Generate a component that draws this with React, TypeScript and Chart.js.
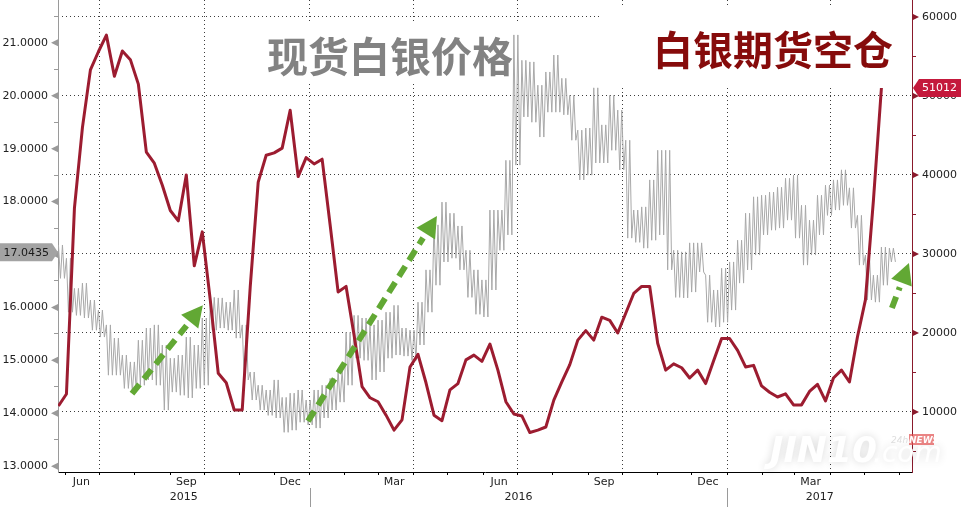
import { useEffect, useRef } from 'react';
import { Chart, registerables } from 'chart.js';

Chart.register(...registerables);

// ---- time axis (days since 2015-01-01) ----
const X_MIN = 144.6;
const X_MAX = 892.8;
const FIRST_WEEK_DAY = 145; // 2015-05-26

const monthStarts = [151, 181, 212, 243, 273, 304, 334, 365, 396, 425, 456, 486, 517, 547, 578, 609, 639, 670, 700, 731, 762, 790, 821, 851, 882];
const quarterStarts = [181, 273, 365, 456, 547, 639, 731, 821];
const monthLabelDays = [165, 257, 348, 439, 531, 623, 714, 804];
const monthLabelTexts = ['Jun', 'Sep', 'Dec', 'Mar', 'Jun', 'Sep', 'Dec', 'Mar'];
const yearLabelDays = [254.8, 548, 811.9];
const yearLabelTexts = ['2015', '2016', '2017'];
const yearBreakDays = [365, 731];

// ---- left axis: spot silver ----
const priceTicks = [13, 14, 15, 16, 17, 18, 19, 20, 21];
const priceMinorTicks = [13.5, 14.5, 15.5, 16.5, 17.5, 18.5, 19.5, 20.5, 21.5];
const lastPrice = 17.0435;

// weekly high / low of spot silver
const silverHigh = [
  17.18, 16.93, 16.36, 16.46, 16.14, 15.95, 15.67, 15.42, 15.10, 14.97,
  15.38, 15.61, 15.67, 15.29, 15.04, 15.10, 15.44, 15.29, 15.80, 16.19,
  16.18, 16.10, 16.33, 15.67, 14.78, 14.53, 14.44, 14.63, 14.30, 14.38,
  14.44, 14.25, 14.44, 14.53, 14.66, 14.81, 15.53, 15.85, 15.80, 15.67,
  15.76, 15.91, 16.04, 15.61, 15.57, 16.10, 16.71, 17.56, 17.99, 17.78,
  17.54, 17.08, 16.71, 16.52, 17.84, 17.84, 18.78, 21.15, 20.67, 20.64,
  20.20, 20.45, 20.77, 20.33, 20.01, 19.35, 19.39, 20.15, 19.45, 20.01,
  19.73, 19.16, 17.84, 17.90, 18.41, 18.97, 18.97, 17.08, 17.05, 17.22,
  17.22, 16.61, 16.33, 16.74, 16.86, 17.27, 17.78, 18.09, 18.12, 18.18,
  18.27, 18.44, 18.50, 17.93, 17.65, 18.12, 18.31, 18.41, 18.60, 18.26,
  17.74, 16.99, 16.61, 17.14, 17.12,
];
const silverLow = [
  16.55, 15.91, 15.85, 15.80, 15.57, 15.44, 14.72, 14.72, 14.47, 14.40,
  14.53, 14.63, 14.53, 14.06, 14.40, 14.34, 14.29, 14.47, 14.53, 15.57,
  15.61, 15.57, 15.42, 14.63, 14.25, 14.06, 13.96, 13.91, 13.64, 13.68,
  13.83, 13.78, 13.72, 13.91, 14.06, 14.21, 14.53, 15.04, 15.00, 14.63,
  14.78, 15.04, 15.10, 15.08, 15.00, 15.29, 15.91, 16.42, 16.86, 16.93,
  16.71, 16.19, 15.87, 15.82, 16.33, 17.08, 17.37, 18.69, 19.60, 19.50,
  19.22, 19.69, 19.69, 19.64, 19.16, 18.41, 18.50, 18.73, 18.73, 18.97,
  18.60, 17.31, 17.23, 17.12, 17.27, 17.37, 16.71, 16.19, 16.18, 16.29,
  16.67, 15.72, 15.63, 15.72, 15.95, 16.46, 16.71, 16.99, 17.37, 17.46,
  17.50, 17.65, 17.31, 16.80, 16.99, 17.37, 17.74, 17.84, 17.93, 17.50,
  16.80, 16.14, 16.10, 16.42, 16.86,
];

// ---- right axis: silver futures short positions (weekly) ----
const shortTicks = [10000, 20000, 30000, 40000, 50000, 60000];
const shortMinorTicks = [5000, 15000, 25000, 35000, 45000, 55000];
const silverShorts = [
  10760, 12280, 35800, 46000, 53300, 55600, 57700, 52500, 55700, 54600,
  51500, 42900, 41500, 38700, 35500, 34200, 40000, 28500, 32800, 24200,
  14900, 13700, 10250, 10250, 25800, 39100, 42500, 42800, 43400, 48200,
  39800, 42200, 41400, 42000, 33700, 25200, 25900, 19700, 13200, 11800,
  11300, 9600, 7700, 9000, 15700, 17300, 13700, 9600, 8900, 12800,
  13600, 16600, 17200, 16400, 18600, 15300, 11300, 9750, 9500, 7400,
  7700, 8100, 11500, 13800, 16000, 19100, 20300, 19100, 22000, 21600,
  20000, 22500, 25000, 25900, 25900, 18700, 15300, 16100, 15600, 14300,
  15300, 13600, 16500, 19300, 19300, 17800, 15700, 15900, 13300, 12500,
  11900, 12300, 10900, 10900, 12600, 13500, 11400, 14300, 15300, 13800,
  19500, 24200, 36800, 51012,
];
const lastShorts = 51012;

// annotation arrows, in data units [day, price]
const arrowTails = [[209.4, 14.37], [363.6, 13.85], [875.2, 15.99]];
const arrowTips = [[271.5, 16.04], [476.6, 17.73], [890.1, 16.84]];

const titleSpot = '现货白银价格';
const titleShorts = '白银期货空仓';

const FONT = '"DejaVu Sans", Verdana, sans-serif';
const RED_LINE = '#9c1c30';
const RED_AXIS = '#8a1a2c';
const GREEN = '#62a834';
const GRID = '#3c3c3c';

const xTickValues = [...monthStarts, ...monthLabelDays, ...yearLabelDays].sort((a, b) => a - b);

function xLabel(v: number): string | string[] {
  const m = monthLabelDays.indexOf(v);
  if (m >= 0) return monthLabelTexts[m];
  const y = yearLabelDays.indexOf(v);
  if (y >= 0) return ['', yearLabelTexts[y]];
  return '';
}

function drawArrow(ctx: CanvasRenderingContext2D, x1: number, y1: number, x2: number, y2: number) {
  const dx = x2 - x1, dy = y2 - y1;
  const len = Math.hypot(dx, dy);
  const ux = dx / len, uy = dy / len;
  const headLen = 21, headHalf = 11;
  const bx = x2 - ux * headLen, by = y2 - uy * headLen;
  ctx.save();
  ctx.strokeStyle = GREEN;
  ctx.lineWidth = 6;
  ctx.setLineDash([12, 7]);
  ctx.beginPath();
  ctx.moveTo(x1, y1);
  ctx.lineTo(bx - ux * 5, by - uy * 5);
  ctx.stroke();
  ctx.setLineDash([]);
  ctx.fillStyle = GREEN;
  ctx.beginPath();
  ctx.moveTo(x2, y2);
  ctx.lineTo(bx - uy * headHalf, by + ux * headHalf);
  ctx.lineTo(bx + uy * headHalf, by - ux * headHalf);
  ctx.closePath();
  ctx.fill();
  ctx.restore();
}

const decorPlugin = {
  id: 'decor',
  beforeDatasetsDraw(chart: any) {
    const { ctx } = chart;
    ctx.save();
    ctx.fillStyle = '#ffffff';
    ctx.fillRect(262, 24, 256, 60);
    ctx.fillRect(600, 6, 311, 79);
    ctx.textAlign = 'center';
    ctx.textBaseline = 'middle';
    ctx.font = 'bold 41px "Noto Sans CJK SC"';
    ctx.fillStyle = '#828282';
    ctx.fillText(titleSpot, 390, 56);
    ctx.font = 'bold 40px "Noto Sans CJK SC"';
    ctx.fillStyle = '#860b0b';
    ctx.fillText(titleShorts, 773, 50);
    ctx.restore();
  },
  afterDatasetsDraw(chart: any) {
    const { ctx } = chart;
    const xs = chart.scales.x, yl = chart.scales.yL;
    for (let i = 0; i < arrowTails.length; i++) {
      drawArrow(
        ctx,
        xs.getPixelForValue(arrowTails[i][0]), yl.getPixelForValue(arrowTails[i][1]),
        xs.getPixelForValue(arrowTips[i][0]), yl.getPixelForValue(arrowTips[i][1]),
      );
    }
  },
  afterDraw(chart: any) {
    const { ctx, chartArea } = chart;
    const xs = chart.scales.x, yl = chart.scales.yL, yr = chart.scales.yR;
    ctx.save();
    // axis tick triangles
    ctx.fillStyle = '#9a9a9a';
    for (const v of priceTicks) {
      const y = yl.getPixelForValue(v);
      ctx.beginPath();
      ctx.moveTo(chartArea.left, y - 3.5);
      ctx.lineTo(chartArea.left, y + 3.5);
      ctx.lineTo(chartArea.left - 7, y);
      ctx.closePath();
      ctx.fill();
    }
    ctx.fillStyle = RED_AXIS;
    for (const v of shortTicks) {
      const y = yr.getPixelForValue(v);
      ctx.beginPath();
      ctx.moveTo(chartArea.right, y - 3.5);
      ctx.lineTo(chartArea.right, y + 3.5);
      ctx.lineTo(chartArea.right + 7, y);
      ctx.closePath();
      ctx.fill();
    }
    // year separators
    ctx.strokeStyle = '#9a9a9a';
    ctx.lineWidth = 1;
    for (const d of yearBreakDays) {
      const x = Math.round(xs.getPixelForValue(d)) + 0.5;
      ctx.beginPath();
      ctx.moveTo(x, chartArea.bottom + 16);
      ctx.lineTo(x, chartArea.bottom + 35);
      ctx.stroke();
    }
    // last value tags
    ctx.font = '11px ' + FONT;
    ctx.textBaseline = 'middle';
    const py = yl.getPixelForValue(lastPrice);
    ctx.fillStyle = '#a3a3a3';
    ctx.beginPath();
    ctx.moveTo(0, py - 9);
    ctx.lineTo(chartArea.left - 6, py - 9);
    ctx.lineTo(chartArea.left, py);
    ctx.lineTo(chartArea.left - 6, py + 9);
    ctx.lineTo(0, py + 9);
    ctx.closePath();
    ctx.fill();
    ctx.fillStyle = '#1a1a1a';
    ctx.textAlign = 'right';
    ctx.fillText(lastPrice.toFixed(4), chartArea.left - 9, py + 0.5);

    const sy = yr.getPixelForValue(lastShorts);
    ctx.fillStyle = '#c4193c';
    ctx.beginPath();
    ctx.moveTo(chartArea.right + 1, sy);
    ctx.lineTo(chartArea.right + 7, sy - 9);
    ctx.lineTo(961, sy - 9);
    ctx.lineTo(961, sy + 9);
    ctx.lineTo(chartArea.right + 7, sy + 9);
    ctx.closePath();
    ctx.fill();
    ctx.fillStyle = '#ffffff';
    ctx.textAlign = 'left';
    ctx.fillText(String(lastShorts), chartArea.right + 10, sy + 0.5);

    // watermark
    ctx.shadowColor = 'rgba(0,0,0,0.16)';
    ctx.shadowBlur = 8;
    ctx.fillStyle = 'rgba(255,255,255,0.97)';
    ctx.textAlign = 'left';
    ctx.textBaseline = 'alphabetic';
    ctx.font = 'italic bold 36px ' + FONT;
    ctx.fillText('JIN10', 770, 462);
    ctx.font = 'italic 28px ' + FONT;
    ctx.fillText('.com', 873, 462);
    ctx.shadowBlur = 0;
    ctx.shadowColor = 'transparent';
    ctx.fillStyle = 'rgba(225,80,80,0.7)';
    ctx.fillRect(909, 434, 25, 11);
    ctx.fillStyle = '#ffffff';
    ctx.font = 'italic bold 9px ' + FONT;
    ctx.fillText('NEWS', 909, 443);
    ctx.fillStyle = 'rgba(200,200,200,0.6)';
    ctx.font = 'italic 9px ' + FONT;
    ctx.fillText('24h', 891, 443);
    ctx.restore();
  },
};

export default function App() {
  const ref = useRef<HTMLCanvasElement>(null);

  useEffect(() => {
    // each weekly high-low range is drawn as a hatch of thin vertical strokes
    const spotPoints: { x: number; y: number }[] = [];
    for (let k = 0; k < silverHigh.length; k++) {
      const d = FIRST_WEEK_DAY + 7 * k;
      spotPoints.push({ x: d, y: silverHigh[k] });
      spotPoints.push({ x: d + 1.75, y: silverLow[k] });
      spotPoints.push({ x: d + 3.5, y: silverHigh[k] });
      spotPoints.push({ x: d + 5.25, y: silverLow[k] });
    }
    const shortPoints = silverShorts.map((v, i) => ({ x: FIRST_WEEK_DAY + 7 * i, y: v }));

    const chart = new Chart(ref.current as HTMLCanvasElement, {
      type: 'line',
      data: {
        datasets: [
          {
            label: titleShorts,
            data: shortPoints,
            yAxisID: 'yR',
            xAxisID: 'x',
            borderColor: RED_LINE,
            borderWidth: 3,
            pointRadius: 0,
            tension: 0,
            borderJoinStyle: 'round',
          },
          {
            label: titleSpot,
            data: spotPoints,
            yAxisID: 'yL',
            xAxisID: 'x',
            borderColor: '#a8a8a8',
            borderWidth: 1,
            pointRadius: 0,
            tension: 0,
          },
        ],
      },
      options: {
        responsive: false,
        devicePixelRatio: 1,
        animation: false,
        events: [],
        layout: { padding: 0 },
        plugins: { legend: { display: false }, tooltip: { enabled: false }, title: { display: false } },
        scales: {
          x: {
            type: 'linear',
            position: 'bottom',
            min: X_MIN,
            max: X_MAX,
            afterBuildTicks: (s: any) => { s.ticks = xTickValues.map((v) => ({ value: v })); },
            afterFit: (s: any) => { s.height = 35; s.paddingLeft = 0; s.paddingRight = 0; },
            grid: {
              color: (c: any) => (c.tick && quarterStarts.includes(c.tick.value) ? GRID : 'rgba(0,0,0,0)'),
              tickColor: (c: any) => (c.tick && monthStarts.includes(c.tick.value) ? '#000' : 'rgba(0,0,0,0)'),
              tickLength: 3,
              lineWidth: 1,
            },
            border: { color: '#000', width: 1, dash: [1, 3] },
            ticks: {
              autoSkip: false,
              maxRotation: 0,
              minRotation: 0,
              padding: 0,
              color: '#222',
              font: { family: FONT, size: 11, lineHeight: 1.35 },
              callback: (v: any) => xLabel(v),
            },
          },
          yL: {
            type: 'linear',
            position: 'left',
            min: 12.89,
            max: 21.81,
            afterBuildTicks: (s: any) => {
              s.ticks = [...priceTicks, ...priceMinorTicks].sort((a, b) => a - b).map((v) => ({ value: v }));
            },
            afterFit: (s: any) => { s.width = 58; s.paddingTop = 0; s.paddingBottom = 0; },
            grid: { drawOnChartArea: false, tickLength: 4, color: '#9a9a9a' },
            border: { color: '#9a9a9a', width: 1 },
            ticks: {
              padding: 6,
              color: '#222',
              font: { family: FONT, size: 11 },
              callback: (v: any) => (priceTicks.includes(v) ? Number(v).toFixed(4) : ''),
            },
          },
          yR: {
            type: 'linear',
            position: 'right',
            min: 2405,
            max: 62150,
            afterBuildTicks: (s: any) => {
              s.ticks = [...shortTicks, ...shortMinorTicks].sort((a, b) => a - b).map((v) => ({ value: v }));
            },
            afterFit: (s: any) => { s.width = 49; s.paddingTop = 0; s.paddingBottom = 0; },
            grid: {
              color: (c: any) => (c.tick && shortTicks.includes(c.tick.value) ? GRID : 'rgba(0,0,0,0)'),
              tickColor: RED_AXIS,
              tickLength: 4,
              lineWidth: 1,
            },
            border: { color: RED_AXIS, width: 1, dash: [1, 3] },
            ticks: {
              padding: 6,
              color: '#222',
              font: { family: FONT, size: 11 },
              callback: (v: any) => (shortTicks.includes(v) ? String(v) : ''),
            },
          },
        },
      } as any,
      plugins: [decorPlugin],
    });
    return () => chart.destroy();
  }, []);

  return (
    <div style={{ position: 'fixed', left: 0, top: 0, width: 961, height: 507, background: '#ffffff' }}>
      <canvas ref={ref} width={961} height={507} style={{ display: 'block', width: 961, height: 507 }} />
    </div>
  );
}
